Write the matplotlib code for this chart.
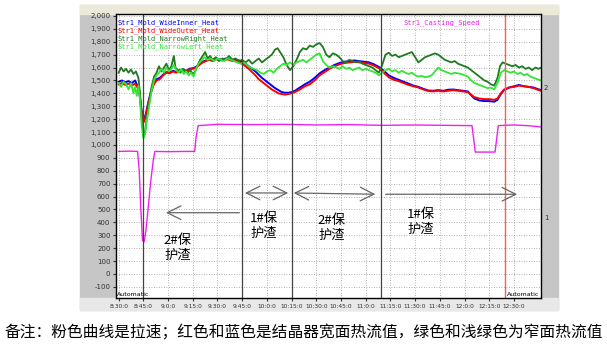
import matplotlib.pyplot as plt
from matplotlib.patches import Rectangle

plt.rcParams['font.family'] = ['Noto Sans CJK SC', 'DejaVu Sans']

# minutes after 8:30
t_wide = [0, 2, 4, 6, 8, 10, 11, 12.5, 13.5, 14.5,
          15.5, 16.5, 18, 19.5, 21, 23, 25, 27, 29, 31,
          33, 35, 37, 39, 41, 43, 45, 47, 49, 51,
          53, 55, 57, 59, 61, 63, 65, 67, 69, 71,
          73, 75, 77, 79, 81, 83, 85, 87, 89, 91,
          93, 95, 97, 99, 101, 103, 105, 107, 110, 113,
          116, 119, 122, 125, 128, 131, 134, 137, 140, 143,
          146, 149, 152, 155, 158, 161, 164, 167, 170, 173,
          176, 179, 182, 185, 188, 191, 194, 197, 200, 203,
          206, 209, 212, 214, 216, 219, 222, 225, 228, 230,
          232, 234, 237, 240, 243, 246, 249, 252, 254, 256.4]
wide_inner = [1490, 1500, 1485, 1495, 1480, 1500, 1470, 1420, 1310, 1210,
              1200, 1240, 1330, 1410, 1470, 1510, 1520, 1545, 1565, 1560,
              1575, 1565, 1580, 1585, 1575, 1590, 1595, 1605, 1625, 1645,
              1655, 1665, 1655, 1670, 1665, 1660, 1670, 1665, 1660, 1665,
              1655, 1645, 1630, 1610, 1590, 1570, 1545, 1520, 1500, 1480,
              1460, 1440, 1425, 1410, 1405, 1405, 1410, 1420, 1445, 1470,
              1490, 1520, 1555, 1580, 1600, 1620, 1635, 1645, 1650, 1655,
              1650, 1645, 1640, 1625, 1605, 1575, 1540, 1520, 1505, 1490,
              1475, 1460, 1450, 1435, 1422, 1420, 1425, 1420, 1428, 1430,
              1425, 1420, 1415, 1385, 1360, 1345, 1340, 1340, 1335, 1350,
              1395, 1425, 1445, 1455, 1465, 1455, 1450, 1445, 1435, 1425]
wide_outer = [1470, 1480, 1465, 1475, 1460, 1475, 1455, 1420, 1300, 1190,
              1180, 1230, 1320, 1400, 1460, 1500, 1510, 1540, 1560, 1555,
              1570, 1560, 1575, 1580, 1570, 1585, 1590, 1600, 1620, 1640,
              1650, 1660, 1650, 1665, 1660, 1655, 1665, 1660, 1650, 1655,
              1640, 1630, 1610, 1590, 1565, 1540, 1510, 1490, 1470, 1450,
              1430, 1415, 1400, 1395, 1390, 1395, 1400, 1410, 1430, 1455,
              1470, 1500, 1540, 1565, 1590, 1610, 1625, 1635, 1640, 1645,
              1640, 1635, 1630, 1615, 1595, 1560, 1525, 1505, 1495, 1480,
              1465, 1455, 1445, 1430, 1418, 1415, 1420, 1415, 1420, 1425,
              1420, 1415, 1410, 1390, 1370, 1360, 1355, 1355, 1350, 1360,
              1400, 1430, 1445, 1450, 1460, 1455, 1450, 1440, 1430, 1420]

t_right = [0, 1.5, 3, 4.5, 6, 7.5, 9, 10.5, 12, 13,
           14, 15, 16, 17, 18.5, 20, 21.5, 23, 24.5, 26,
           27.5, 29, 30.5, 32, 33.5, 34.5, 36, 37.5, 39, 40.5,
           42, 43.5, 45, 46.5, 48, 49.5, 51, 52.5, 54, 55.5,
           57, 59, 61, 63, 65, 67, 69, 71, 73, 75,
           77, 79, 81, 83, 85, 87, 89, 91, 93, 95,
           96.5, 98, 100, 102, 104, 106, 108, 110, 112, 114,
           116, 118, 120, 122, 124, 126, 128, 130, 132, 134,
           136, 138, 140, 142, 144, 146, 148, 150, 152, 154,
           156, 158, 160, 162, 164, 166, 168, 170, 172, 174,
           176, 178, 180, 182, 184, 186, 188, 190, 192, 194,
           196, 198, 200, 202, 204, 206, 208, 210, 212, 214,
           216, 218, 220, 222, 224, 226, 228, 230, 231.5, 233,
           235, 237, 239, 241, 243, 245, 247, 249, 251, 253, 255, 256.4]
narrow_right = [1560, 1600, 1570, 1590, 1560, 1585, 1550, 1570, 1520, 1400,
                1200, 1080, 1100, 1200, 1320, 1450, 1530, 1560, 1610, 1570,
                1600, 1630, 1580, 1610, 1690, 1600, 1580, 1560, 1590, 1570,
                1560, 1580, 1550, 1570, 1620, 1660, 1690, 1720, 1670, 1690,
                1660, 1680, 1650, 1670, 1660, 1690, 1660, 1670, 1650, 1660,
                1640, 1660, 1630, 1650, 1670, 1640, 1660, 1680, 1700, 1740,
                1750, 1720, 1680, 1620, 1580, 1610, 1660, 1720, 1750, 1740,
                1770, 1760, 1780, 1790, 1760, 1700, 1680, 1710, 1700, 1680,
                1650, 1640, 1660, 1650, 1640, 1650, 1630, 1620, 1610, 1600,
                1580, 1560, 1620, 1700, 1715, 1690, 1700, 1680, 1690, 1700,
                1710, 1720, 1680, 1640, 1660, 1680, 1690, 1700, 1710, 1700,
                1680, 1660, 1650, 1640, 1650, 1630, 1620, 1610, 1600, 1580,
                1560, 1540, 1520, 1500, 1490, 1470, 1460, 1520, 1610, 1640,
                1630, 1620, 1610, 1620, 1600, 1610, 1590, 1600, 1580, 1600, 1590, 1600]

t_left = [0, 1.5, 3, 4.5, 6, 7.5, 9, 10, 11, 12,
          13, 14, 15, 16, 17, 18.5, 20, 21.5, 23, 24.5,
          26, 27.5, 29, 30.5, 32, 33.5, 35, 36.5, 38, 39.5,
          41, 42.5, 44, 45.5, 47, 48.5, 50, 52, 54, 56,
          58, 60, 62, 64, 66, 68, 70, 72, 74, 76,
          78, 80, 82, 84, 86, 88, 90, 92, 94, 96,
          98, 100, 102, 104, 106, 108, 110, 112, 114, 116,
          118, 120, 122, 124, 126, 128, 130, 132, 134, 136,
          138, 140, 142, 144, 146, 148, 150, 152, 154, 156,
          158, 160, 162, 164, 166, 168, 170, 172, 174, 176,
          178, 180, 182, 184, 186, 188, 190, 192, 194, 196,
          198, 200, 202, 204, 206, 208, 210, 212, 214, 216,
          218, 220, 222, 224, 226, 228, 230, 232, 234, 236,
          238, 240, 242, 244, 246, 248, 250, 252, 254, 256.4]
narrow_left = [1480, 1450, 1490, 1470, 1430, 1480, 1400, 1450, 1380, 1460,
               1350, 1150, 1050, 1080, 1180, 1300, 1420, 1500, 1540, 1560,
               1590, 1560, 1600, 1570, 1590, 1620, 1580, 1560, 1590, 1550,
               1570, 1540, 1560, 1530, 1590, 1630, 1650, 1680, 1660, 1670,
               1650, 1670, 1660, 1650, 1670, 1660, 1650, 1640, 1630, 1640,
               1620, 1600, 1590, 1580, 1560, 1550, 1570, 1580, 1560, 1590,
               1610, 1630, 1620, 1640, 1620, 1640, 1650, 1660, 1640, 1660,
               1680, 1700, 1710, 1650, 1620, 1600, 1610, 1600, 1590, 1610,
               1590, 1600, 1580, 1590, 1600, 1580, 1590, 1580, 1570, 1560,
               1540, 1560, 1580, 1590, 1570, 1580, 1560, 1575, 1560, 1550,
               1560, 1540, 1530, 1535, 1525, 1530, 1540, 1570, 1600, 1580,
               1570, 1560, 1550, 1560, 1555, 1550, 1540, 1530, 1500, 1480,
               1470, 1460, 1450, 1440, 1445, 1430, 1480, 1560, 1580, 1570,
               1560, 1570, 1550, 1560, 1540, 1550, 1530, 1520, 1510, 1500]

t_speed = [0, 7, 11.5, 12.5, 13.5, 14.5, 15.5, 16.5, 18, 19.5,
           21, 22, 30, 40, 46.2, 47, 48.3, 60, 80, 100,
           120, 140, 160, 180, 200, 214.5, 215.5, 216.5, 228.5, 229.5,
           230.5, 240, 248, 256.4]
casting_speed = [950, 952, 950, 800, 500, 260, 250, 330, 520, 720,
                 880, 950, 948, 950, 950, 1060, 1150, 1160, 1158, 1160,
                 1155, 1158, 1152, 1155, 1152, 1150, 1050, 945, 945, 1050,
                 1150, 1155, 1150, 1140]

series_names = ['Str1_Mold_WideInner_Heat', 'Str1_Mold_WideOuter_Heat',
                'Str1_Mold_NarrowRight_Heat', 'Str1_Mold_NarrowLeft_Heat']
series_colors = ['#0000ff', '#ff0000', '#1f7a1f', '#33e633']
speed_color = '#ee22ee'

x_ticks = list(range(0, 241, 15))
x_labels = ['8:30:0', '8:45:0', '9:0:0', '9:15:0', '9:30:0', '9:45:0', '10:0:0',
            '10:15:0', '10:30:0', '10:45:0', '11:0:0', '11:15:0', '11:30:0',
            '11:45:0', '12:0:0', '12:15:0', '12:30:0']
markers = [15, 75, 105, 159.5]
red_marker = 234.5

W, H = 607, 351
fig = plt.figure(figsize=(W / 100, H / 100), dpi=100)

# window frame of the screenshot
bg = fig.add_axes([0, 0, 1, 1])
bg.set_xlim(0, W)
bg.set_ylim(H, 0)
bg.axis('off')
bg.add_patch(Rectangle((80, 5), 478, 305, color='#c6c6c6'))
bg.add_patch(Rectangle((80, 5), 478, 9, color='#ece9d8'))
bg.add_patch(Rectangle((80, 298), 478, 12, color='#e8e8e8'))
bg.text(W / 2, 333, '备注：粉色曲线是拉速；红色和蓝色是结晶器宽面热流值，绿色和浅绿色为窄面热流值',
        ha='center', va='center', fontsize=11.3)

ax = fig.add_axes([116 / W, 1 - 298 / H, (541 - 116) / W, (298 - 14) / H])
ax.set_facecolor('white')
ax.set_xlim(-1.6, 256.4)
ax.set_ylim(-186, 2015)

ax.plot(t_wide, wide_inner, color=series_colors[0], lw=1.4)
ax.plot(t_wide, wide_outer, color=series_colors[1], lw=1.4)
ax.plot(t_right, narrow_right, color=series_colors[2], lw=1.3)
ax.plot(t_left, narrow_left, color=series_colors[3], lw=1.3)
ax.plot(t_speed, casting_speed, color=speed_color, lw=1.0)

for m in markers:
    ax.axvline(m, color='#444444', lw=0.9)
ax.axvline(red_marker, color='#ff5a5a', lw=1.0)

ax.set_xticks(x_ticks)
ax.set_xticklabels(x_labels)
ax.set_yticks(range(-100, 2001, 100))
ax.set_yticklabels([f'{v:,}' for v in range(-100, 2001, 100)])
ax.tick_params(labelsize=5, colors='#333333', length=2, pad=2)
ax.tick_params(axis='x', labelsize=4.2)
for lab in ax.get_xticklabels() + ax.get_yticklabels():
    lab.set_family('DejaVu Sans')
ax.grid(True, ls=(0, (1, 2)), color='#9a9a9a', lw=0.6)
for s in ax.spines.values():
    s.set_color('black')
    s.set_linewidth(1.0)

# annotations for the mould powder
arrow = dict(arrowstyle='->,head_length=0.7,head_width=0.35', color='#666666', lw=0.9, mutation_scale=14)
both = dict(arrowstyle='<->,head_length=0.7,head_width=0.35', color='#666666', lw=0.9, mutation_scale=14)
ax.annotate('', xy=(27, 475), xytext=(75, 475), arrowprops=arrow)
ax.annotate('', xy=(75, 628), xytext=(104.6, 628), arrowprops=both)
ax.annotate('', xy=(104.6, 628), xytext=(157.5, 618), arrowprops=both)
ax.annotate('', xy=(243.6, 618), xytext=(160.4, 618), arrowprops=arrow)
notes = [(36, 200, '2#保\n护渣'), (88, 372, '1#保\n护渣'),
         (129.5, 357, '2#保\n护渣'), (183.5, 403, '1#保\n护渣')]
for x, y, s in notes:
    ax.text(x, y, s, ha='center', va='center', fontsize=9.5, linespacing=1.2)

# overlay labels in pixel coordinates
ov = fig.add_axes([0, 0, 1, 1], zorder=5)
ov.set_xlim(0, W)
ov.set_ylim(H, 0)
ov.axis('off')
for i, (name, c) in enumerate(zip(series_names, series_colors)):
    ov.text(117, 22.5 + 8.2 * i, name, color=c, fontsize=5,
            family='DejaVu Sans Mono', va='center')
ov.text(404, 22.5, 'Str1_Casting_Speed', color=speed_color, fontsize=5,
        family='DejaVu Sans Mono', va='center')
ov.text(117, 294, 'Automatic', fontsize=4.5, family='DejaVu Sans', va='center')
ov.text(539, 294, 'Automatic', fontsize=4.5, family='DejaVu Sans', va='center', ha='right')
ov.text(544, 88, '2', fontsize=5, family='DejaVu Sans', va='center', color='#333333')
ov.text(544, 218, '1', fontsize=5, family='DejaVu Sans', va='center', color='#333333')

fig.savefig('out.png', dpi=100)
